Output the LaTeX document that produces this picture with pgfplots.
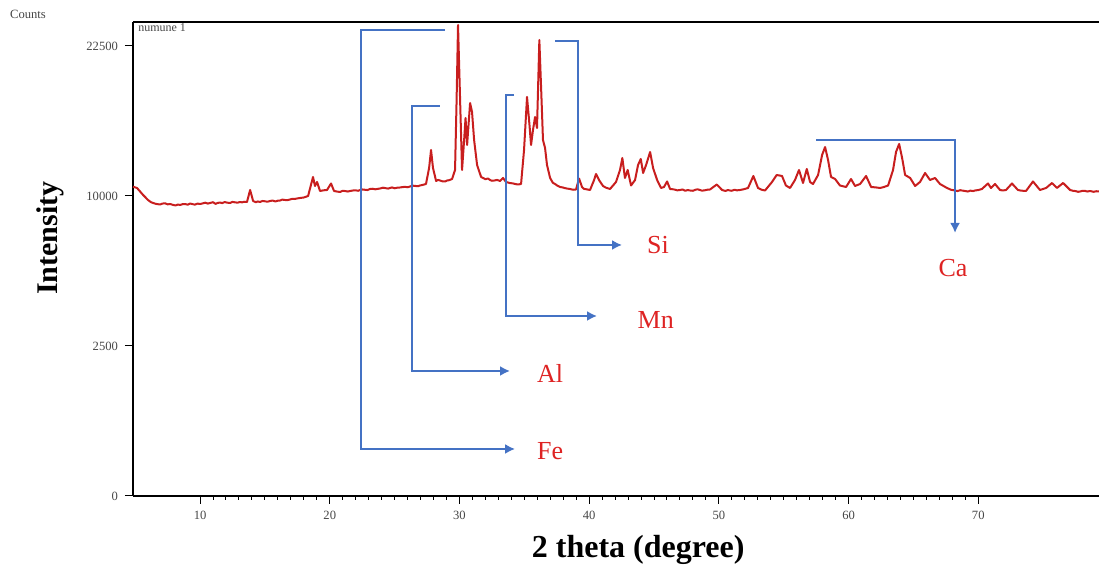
\documentclass[border=0pt]{standalone}
\usepackage{fontspec}
\setmainfont{Liberation Serif}
\usepackage{pgfplots}
\pgfplotsset{compat=1.18}
\usetikzlibrary{arrows.meta}
\definecolor{xrdred}{RGB}{200,30,30}
\definecolor{annblue}{RGB}{68,114,196}
\definecolor{lblred}{RGB}{222,35,35}
\definecolor{tickgray}{RGB}{70,70,70}
\begin{document}
\begin{tikzpicture}
\path[use as bounding box] (-66.5pt,-37.5pt) rectangle (483pt,248pt);
\begin{axis}[
  at={(0,0)}, anchor=south west, scale only axis,
  width=483pt, height=237pt,
  xmin=4.83, xmax=79.31, ymin=0, ymax=158,
  clip=false,
  axis x line*=bottom, axis y line*=left,
  axis line style={line width=1pt},
  tick align=outside,
  xtick={10,20,...,70}, minor x tick num=9,
  ytick={0,50,100,150}, yticklabels={0,2500,10000,22500},
  major tick length=4pt, minor tick length=2pt,
  every tick/.style={black, line width=0.5pt},
  ticklabel style={font=\fontsize{6.3}{7}\selectfont, text=tickgray},
  /pgf/number format/assume math mode=true,
  y filter/.expression={sqrt(y)},
]
\addplot[xrdred, line width=1pt, line join=round] table[row sep=\\] {
x y \\
4.83 10630 \\ 5.14 10541 \\ 5.61 10067 \\ 5.99 9735 \\ 6.2 9600 \\ 6.38 9539 \\ 6.6 9480 \\ 6.92 9441 \\
7.1 9500 \\ 7.30 9520 \\ 7.5 9450 \\ 7.69 9474 \\ 7.9 9420 \\ 8.10 9380 \\ 8.3 9440 \\ 8.46 9409 \\ 8.65 9460 \\ 8.85 9470 \\ 9.05 9430 \\ 9.23 9506 \\
9.40 9470 \\ 9.60 9430 \\ 9.8 9500 \\ 10.0 9474 \\ 10.2 9510 \\ 10.4 9560 \\ 10.6 9500 \\ 10.77 9539 \\ 11.0 9590 \\ 11.2 9480 \\ 11.35 9540 \\ 11.54 9571 \\
11.7 9530 \\ 11.9 9600 \\ 12.1 9560 \\ 12.31 9539 \\ 12.5 9610 \\ 12.7 9580 \\ 12.9 9560 \\ 13.08 9604 \\ 13.25 9580 \\ 13.4 9620 \\ 13.62 9604 \\
13.86 10404 \\ 14.09 9669 \\ 14.3 9590 \\ 14.45 9640 \\ 14.63 9604 \\ 14.8 9670 \\ 15.0 9650 \\ 15.2 9620 \\ 15.40 9669 \\ 15.6 9700 \\
15.8 9640 \\ 16.0 9690 \\ 16.17 9702 \\ 16.35 9760 \\ 16.5 9740 \\ 16.7 9720 \\ 16.94 9768 \\ 17.1 9810 \\ 17.3 9800 \\ 17.5 9840 \\ 17.71 9867 \\
18.0 9900 \\ 18.33 10000 \\ 18.71 11307 \\ 18.86 10678 \\ 19.02 10955 \\ 19.25 10336 \\
19.5 10380 \\ 19.79 10404 \\ 20.10 10851 \\ 20.33 10336 \\ 20.55 10300 \\ 20.79 10268 \\ 21.0 10350 \\ 21.2 10330 \\ 21.4 10300 \\ 21.57 10336 \\
21.8 10370 \\ 22.0 10380 \\ 22.2 10350 \\ 22.34 10404 \\ 22.5 10440 \\ 22.7 10420 \\ 22.9 10400 \\ 23.11 10472 \\ 23.3 10490 \\ 23.5 10450 \\ 23.7 10480 \\ 23.88 10506 \\
24.1 10560 \\ 24.3 10530 \\ 24.5 10500 \\ 24.65 10541 \\ 24.8 10580 \\ 25.0 10520 \\ 25.2 10560 \\ 25.42 10575 \\ 25.6 10600 \\ 25.8 10620 \\ 26.0 10590 \\ 26.19 10643 \\
26.4 10700 \\ 26.6 10680 \\ 26.8 10660 \\ 26.96 10712 \\ 27.2 10760 \\ 27.42 10816 \\ 27.66 11954 \\ 27.81 13302 \\ 27.96 11954 \\
28.20 11025 \\ 28.35 11100 \\ 28.5 11060 \\ 28.7 11000 \\ 28.89 10990 \\ 29.05 11060 \\ 29.2 11080 \\ 29.43 11165 \\ 29.66 11808 \\
29.78 17424 \\ 29.89 24649 \\ 30.05 17424 \\ 30.20 11808 \\ 30.36 14082 \\ 30.47 15876 \\
30.59 13689 \\ 30.82 17161 \\ 30.97 16384 \\ 31.13 14082 \\ 31.36 12173 \\ 31.67 11307 \\
32.0 11150 \\ 32.2 11200 \\ 32.36 11095 \\ 32.5 11040 \\ 32.7 11060 \\ 32.9 11100 \\ 33.13 11025 \\ 33.36 11236 \\ 33.59 10955 \\
33.9 10880 \\ 34.1 10860 \\ 34.29 10816 \\ 34.5 10780 \\ 34.75 10816 \\ 34.98 13302 \\ 35.21 17689 \\ 35.40 15294 \\
35.52 13689 \\ 35.67 14884 \\ 35.83 15960 \\ 35.98 15048 \\ 36.16 23104 \\ 36.33 17424 \\
36.44 14082 \\ 36.60 13456 \\ 36.75 12173 \\ 36.99 11236 \\ 37.2 10900 \\ 37.37 10816 \\ 37.55 10700 \\ 37.76 10609 \\
37.95 10580 \\ 38.1 10540 \\ 38.3 10500 \\ 38.53 10472 \\ 38.75 10420 \\ 38.99 10438 \\ 39.22 11200 \\ 39.45 10609 \\ 39.6 10480 \\ 39.8 10450 \\
40.07 10404 \\ 40.38 11095 \\ 40.53 11520 \\ 40.76 11095 \\ 41.07 10678 \\ 41.3 10560 \\ 41.61 10472 \\
42.07 10955 \\ 42.38 11808 \\ 42.56 12694 \\ 42.76 11236 \\ 42.97 11808 \\ 43.23 10712 \\
43.54 11095 \\ 43.77 12173 \\ 43.98 12619 \\ 44.16 11592 \\ 44.39 12173 \\ 44.70 13148 \\
44.93 11954 \\ 45.24 11095 \\ 45.54 10541 \\ 45.77 10609 \\ 46.01 10990 \\ 46.24 10472 \\
46.4 10460 \\ 46.6 10430 \\ 46.8 10380 \\ 47.01 10404 \\ 47.2 10440 \\ 47.4 10350 \\ 47.6 10400 \\ 47.78 10370 \\ 48.0 10350 \\ 48.2 10420 \\ 48.35 10450 \\ 48.55 10404 \\
48.7 10360 \\ 48.9 10380 \\ 49.1 10420 \\ 49.32 10438 \\ 49.84 10781 \\ 50.25 10404 \\ 50.5 10340 \\ 50.7 10400 \\ 50.86 10370 \\
51.0 10350 \\ 51.2 10420 \\ 51.4 10380 \\ 51.63 10404 \\ 51.9 10450 \\ 52.25 10541 \\ 52.66 11378 \\ 53.02 10541 \\ 53.3 10420 \\ 53.56 10370 \\
54.10 10955 \\ 54.46 11449 \\ 54.87 11378 \\ 55.17 10712 \\ 55.49 10541 \\ 55.87 11095 \\
56.18 11808 \\ 56.49 10885 \\ 56.78 11881 \\ 57.03 10955 \\ 57.26 10816 \\ 57.65 11449 \\
57.96 12920 \\ 58.19 13533 \\ 58.42 12544 \\ 58.65 11307 \\ 58.96 11165 \\ 59.34 10712 \\
59.81 10609 \\ 60.19 11165 \\ 60.50 10678 \\ 60.89 10816 \\ 61.35 11378 \\ 61.74 10609 \\
62.1 10580 \\ 62.43 10541 \\ 62.7 10600 \\ 63.05 10712 \\ 63.43 11808 \\ 63.66 13148 \\ 63.90 13767 \\
64.13 12694 \\ 64.36 11449 \\ 64.75 11236 \\ 65.13 10678 \\ 65.51 10955 \\ 65.90 11592 \\
66.28 11095 \\ 66.67 11236 \\ 67.05 10816 \\ 67.59 10541 \\ 67.9 10420 \\ 68.21 10370 \\ 68.4 10330 \\ 68.6 10390 \\
68.8 10360 \\ 68.98 10336 \\ 69.2 10300 \\ 69.4 10360 \\ 69.6 10330 \\ 69.75 10370 \\ 70.0 10400 \\ 70.28 10472 \\ 70.75 10851 \\ 70.98 10541 \\
71.29 10816 \\ 71.68 10404 \\ 71.9 10370 \\ 72.14 10404 \\ 72.60 10851 \\ 73.06 10404 \\ 73.3 10360 \\ 73.68 10336 \\
74.22 10990 \\ 74.76 10404 \\ 75.23 10541 \\ 75.69 10885 \\ 76.07 10541 \\ 76.54 10885 \\
77.08 10404 \\ 77.3 10350 \\ 77.5 10330 \\ 77.7 10280 \\ 77.85 10302 \\ 78.0 10340 \\ 78.2 10350 \\ 78.4 10300 \\ 78.62 10336 \\ 78.9 10280 \\ 79.1 10320 \\ 79.31 10302 \\
};
% top frame line
\draw[line width=1pt] (rel axis cs:0,1) -- (rel axis cs:1,1);
% annotations
\begin{scope}[annblue, line width=1pt, -{Latex[length=5pt,width=5pt]}]
\draw (axis cs:28.89,155.3) -- (axis cs:22.41,155.3) -- (axis cs:22.41,15.67) -- (axis cs:34.29,15.67);
\draw (axis cs:28.50,130) -- (axis cs:26.35,130) -- (axis cs:26.35,41.67) -- (axis cs:33.90,41.67);
\draw (axis cs:34.21,133.67) -- (axis cs:33.59,133.67) -- (axis cs:33.59,60) -- (axis cs:40.61,60);
\draw (axis cs:37.37,151.67) -- (axis cs:39.14,151.67) -- (axis cs:39.14,83.67) -- (axis cs:42.54,83.67);
\draw (axis cs:57.49,118.67) -- (axis cs:68.21,118.67) -- (axis cs:68.21,87.67);
\end{scope}
\begin{scope}[every node/.style={text=lblred, font=\fontsize{13}{15}\selectfont}]
\node[anchor=west] at (axis cs:35.45,15.0) {Fe};
\node[anchor=west] at (axis cs:35.45,41.0) {Al};
\node[anchor=west] at (axis cs:43.20,58.67) {Mn};
\node[anchor=west] at (axis cs:43.92,83.67) {Si};
\node at (axis cs:68.06,76) {Ca};
\end{scope}
\node[font=\fontsize{16}{19}\selectfont\bfseries] at (rel axis cs:0.523,-0.114) {2 theta (degree)};
\node[rotate=90, font=\fontsize{15}{18}\selectfont\bfseries] at (rel axis cs:-0.0859,0.544) {Intensity};
\node[font=\fontsize{6.3}{7}\selectfont, text=tickgray] at (rel axis cs:-0.1087,1.017) {Counts};
\node[anchor=west, font=\fontsize{6}{7}\selectfont, text=tickgray, inner sep=1pt] at (rel axis cs:0.003,0.989) {numune 1};
\end{axis}
\end{tikzpicture}
\end{document}
